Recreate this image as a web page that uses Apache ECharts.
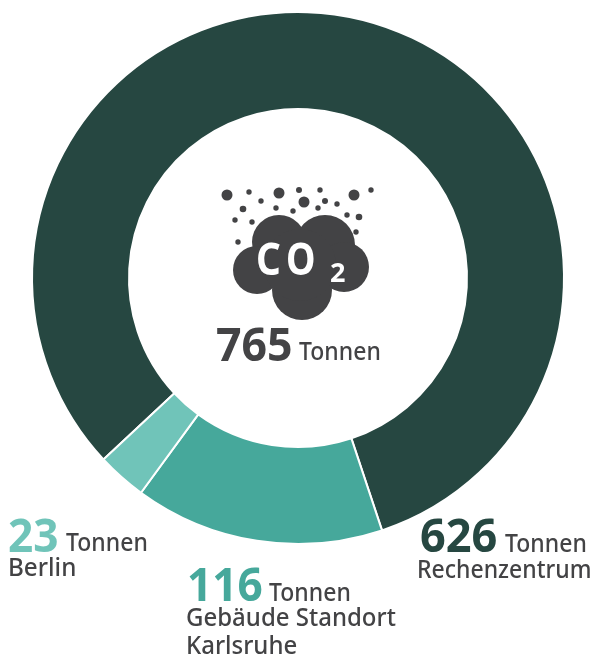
<!DOCTYPE html>
<html>
<head>
<meta charset="utf-8" />
<style>
  html, body { margin: 0; padding: 0; background: #fff; }
  #chart { width: 592px; height: 657px; }
</style>
<script src="https://cdn.jsdelivr.net/npm/echarts@6/dist/echarts.min.js"></script>
</head>
<body>
<div id="chart"></div>
<script>
const names = ["Rechenzentrum", "Gebäude Standort Karlsruhe", "Berlin"];
const values = [626, 116, 23];
const colors = ["#264741", "#46a89b", "#70c4b9"];
const total = 765;
const unit = "Tonnen";

const fontFamily = "'Noto Sans', sans-serif";
const textColor = "#434345";

// icon: [x, y, r]
const dots = [
  [227, 195, 5.5], [249, 192, 2.7], [261, 201, 2.7], [279, 193, 5.5], [299, 190, 3],
  [320, 190, 2.7], [354, 195, 5.5], [371, 190, 2.7], [304, 202, 5.5], [325, 201, 3],
  [337, 204, 2.7], [276, 208, 2.7], [293, 211, 2.7], [318, 208, 2.7], [243, 209, 3.3],
  [235, 220, 2.7], [252, 222, 2.7], [347, 215, 2.7], [359, 217, 3.3], [356, 232, 2.7],
  [238, 242, 2.7],
];
const lobes = [
  [279, 242, 27], [325, 245, 30], [257, 270, 24], [344, 267, 25], [302, 290, 30], [300, 265, 36],
];

function text(str, x, baseline, size, color, weight, scaleX) {
  return {
    type: "text",
    x: x,
    y: baseline - size * 0.31,
    scaleX: scaleX || 1,
    style: {
      text: str,
      fontFamily: fontFamily,
      fontSize: size,
      fontWeight: weight || 500,
      fill: color || textColor,
      align: "left",
      verticalAlign: "middle",
    },
  };
}

const graphics = [];
dots.concat(lobes).forEach((c) => {
  graphics.push({ type: "circle", shape: { cx: c[0], cy: c[1], r: c[2] }, style: { fill: textColor } });
});
graphics.push(text("C", 256, 276, 45, "#fff", 700, 0.86));
graphics.push(text("O", 286, 276, 45, "#fff", 700, 0.83));
graphics.push(text("2", 330, 283, 27, "#fff", 700));

graphics.push(text(String(total), 216, 362, 47, textColor, 700, 0.95));
graphics.push(text(unit, 299, 361, 25, textColor, 500, 0.92));

graphics.push(text(String(values[2]), 8, 553, 47, colors[2], 700, 0.94));
graphics.push(text(unit, 66, 552, 25, textColor, 500, 0.92));
graphics.push(text(names[2], 8, 577, 25, textColor, 500, 0.97));

graphics.push(text(String(values[1]), 187, 602, 47, colors[1], 700, 0.94));
graphics.push(text(unit, 269, 602, 25, textColor, 500, 0.92));
graphics.push(text("Gebäude Standort", 186, 627, 25, textColor, 500, 0.96));
graphics.push(text("Karlsruhe", 186, 655, 25, textColor, 500, 0.96));

graphics.push(text(String(values[0]), 420, 553, 47, colors[0], 700, 0.96));
graphics.push(text(unit, 505, 553, 25, textColor, 500, 0.92));
graphics.push(text(names[0], 417, 579, 25, textColor, 500, 0.92));

const myChart = echarts.init(document.getElementById("chart"), null, { renderer: "canvas" });
myChart.setOption({
  animation: false,
  color: colors,
  series: [
    {
      type: "pie",
      center: [298, 278],
      radius: [169, 266],
      startAngle: 223,
      clockwise: true,
      label: { show: false },
      labelLine: { show: false },
      silent: true,
      itemStyle: { borderColor: "#fff", borderWidth: 2 },
      data: names.map((n, i) => ({ name: n, value: values[i] })),
    },
  ],
  graphic: { elements: graphics },
});
</script>
</body>
</html>
